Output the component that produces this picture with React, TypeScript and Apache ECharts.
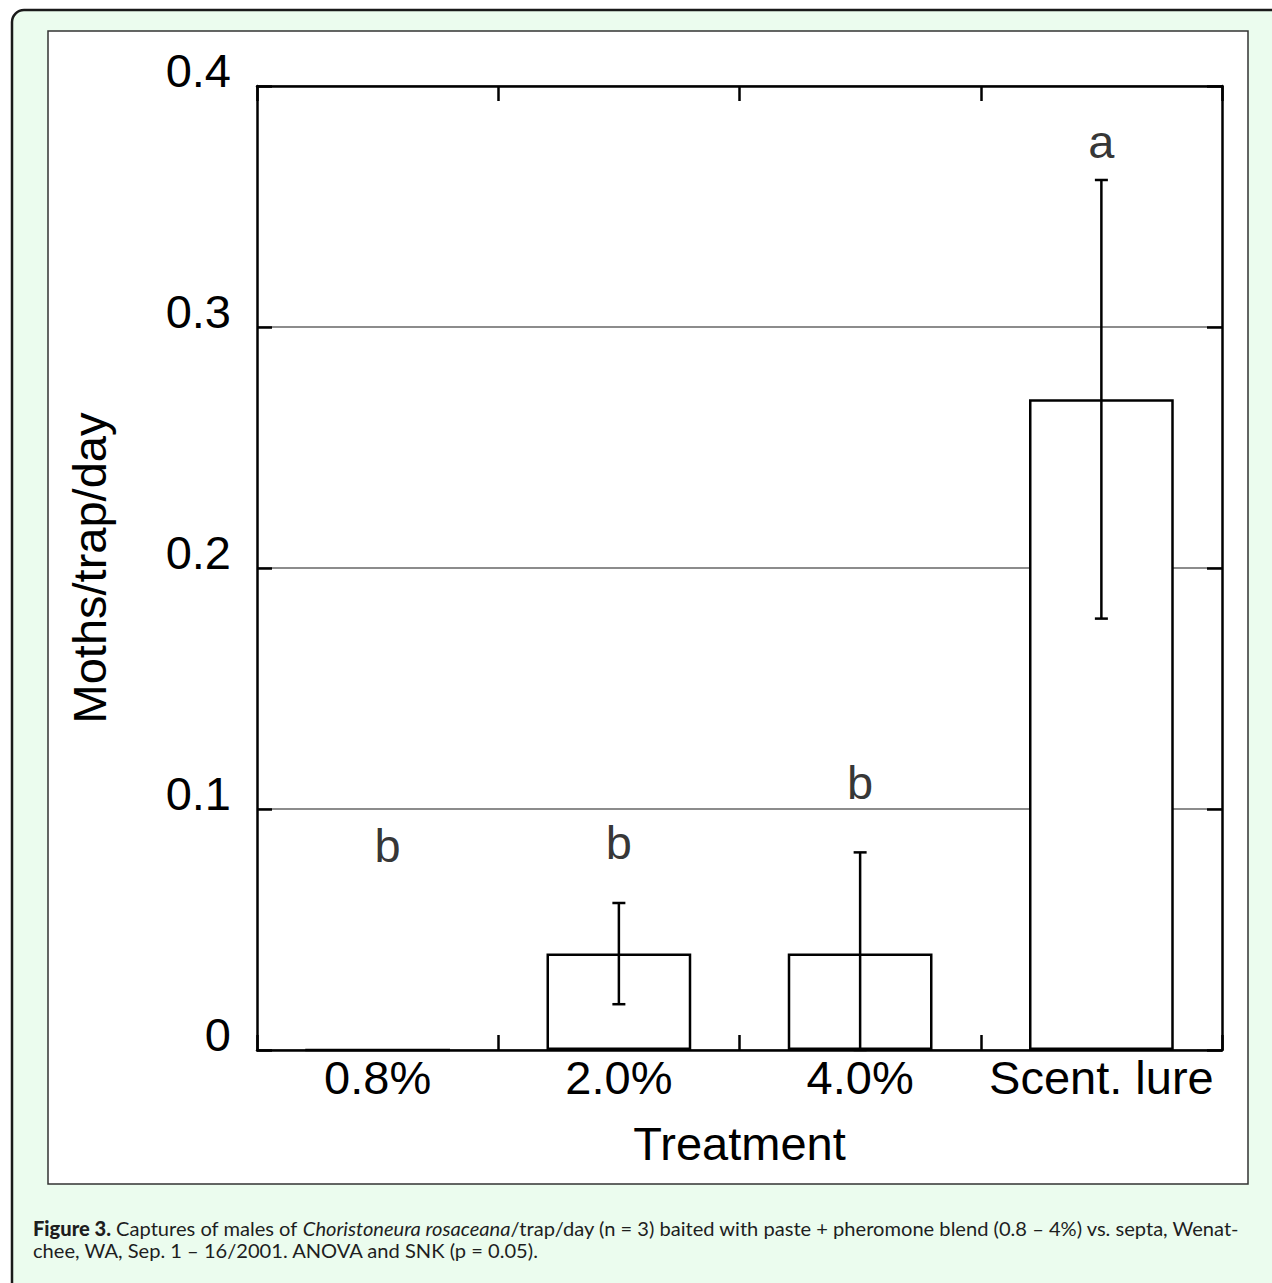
import React, { useEffect, useRef } from "react";
import * as echarts from "echarts";

const categories = ["0.8%", "2.0%", "4.0%", "Scent. lure"];
const means = [0, 0.04, 0.04, 0.27];
const errLow = [0, 0.019, 0, 0.179];
const errHigh = [0, 0.061, 0.082, 0.361];
const letters = ["b", "b", "b", "a"];
const letterY = [0.085, 0.086, 0.111, 0.377];
const yTicks = [0, 0.1, 0.2, 0.3, 0.4];

const captionLine1 =
  "{b|Figure 3.} Captures of males of {i|Choristoneura rosaceana}/trap/day (n = 3) baited with paste + pheromone blend (0.8 – 4%) vs. septa, Wenat-";
const captionLine2 = "chee, WA, Sep. 1 – 16/2001. ANOVA and SNK (p = 0.05).";

const FONT = "Liberation Sans, Arial, Helvetica, sans-serif";
const CAP_FONT = "Lato, Open Sans, sans-serif";
const CAP_SIZE = 20.1;

export default function App() {
  const ref = useRef<HTMLDivElement | null>(null);

  useEffect(() => {
    if (!ref.current) return;
    const chart = echarts.init(ref.current, undefined, { renderer: "svg" });

    const axisLineStyle = { color: "#000", width: 2.5 };
    const capSize = 13;

    const option: any = {
      animation: false,
      backgroundColor: "#fff",
      textStyle: { fontFamily: FONT },
      graphic: [
        {
          type: "rect",
          z: -20,
          silent: true,
          shape: { x: 0, y: 0, width: 1272, height: 1283 },
          style: { fill: "#ffffff" },
        },
        {
          type: "rect",
          z: -19,
          silent: true,
          shape: { x: 12, y: 10, width: 1320, height: 1340, r: 12 },
          style: { fill: "#ebfcee", stroke: "#1a1a1a", lineWidth: 2.5 },
        },
        {
          type: "rect",
          z: -18,
          silent: true,
          shape: { x: 48, y: 31, width: 1200, height: 1153 },
          style: { fill: "#ffffff", stroke: "#333", lineWidth: 1.5 },
        },
        {
          type: "text",
          z: 5,
          x: 33,
          y: 1228,
          style: {
            text: captionLine1,
            fill: "#1e1e1e",
            fontFamily: CAP_FONT,
            fontSize: CAP_SIZE,
            verticalAlign: "middle",
            rich: {
              b: { fontWeight: 900, fontFamily: CAP_FONT, fontSize: CAP_SIZE, fill: "#1e1e1e" },
              i: { fontStyle: "italic", fontFamily: CAP_FONT, fontSize: CAP_SIZE, fill: "#1e1e1e" },
            },
          },
        },
        {
          type: "text",
          z: 5,
          x: 33,
          y: 1250,
          style: {
            text: captionLine2,
            fill: "#1e1e1e",
            fontFamily: CAP_FONT,
            fontSize: CAP_SIZE,
            verticalAlign: "middle",
          },
        },
      ],
      grid: { left: 257, right: 50, top: 86, bottom: 233, containLabel: false },
      xAxis: [
        {
          type: "category",
          data: categories,
          position: "bottom",
          axisLine: { show: true, onZero: false, lineStyle: axisLineStyle },
          axisTick: { show: true, inside: true, length: 15, interval: 0, lineStyle: axisLineStyle },
          axisLabel: { fontSize: 47, color: "#000", fontFamily: FONT, margin: 4, interval: 0 },
          name: "Treatment",
          nameLocation: "middle",
          nameGap: 70,
          nameTextStyle: { fontSize: 47, color: "#000", fontFamily: FONT },
          splitLine: { show: false },
        },
        {
          type: "category",
          data: categories,
          position: "top",
          axisLine: { show: true, onZero: false, lineStyle: axisLineStyle },
          axisTick: { show: true, inside: true, length: 15, interval: 0, lineStyle: axisLineStyle },
          axisLabel: { show: false, interval: 0 },
          splitLine: { show: false },
        },
      ],
      yAxis: [
        {
          type: "value",
          min: 0,
          max: 0.4,
          interval: 0.1,
          position: "left",
          axisLine: { show: true, onZero: false, lineStyle: axisLineStyle },
          axisTick: { show: true, inside: true, length: 15, lineStyle: axisLineStyle },
          axisLabel: {
            fontSize: 47,
            color: "#000",
            fontFamily: FONT,
            margin: 26,
            verticalAlign: "bottom",
            lineHeight: 32,
            formatter: (v: number) => {
              const t = yTicks.find((k) => Math.abs(k - v) < 1e-9);
              return t === 0 ? "0" : (t !== undefined ? t : v).toFixed(1);
            },
          },
          splitLine: { show: true, lineStyle: { color: "#8c8c8c", width: 2 } },
          name: "Moths/trap/day",
          nameLocation: "middle",
          nameGap: 144,
          nameTextStyle: { fontSize: 47, color: "#000", fontFamily: FONT },
        },
        {
          type: "value",
          min: 0,
          max: 0.4,
          interval: 0.1,
          position: "right",
          axisLine: { show: true, onZero: false, lineStyle: axisLineStyle },
          axisTick: { show: true, inside: true, length: 15, lineStyle: axisLineStyle },
          axisLabel: { show: false },
          splitLine: { show: false },
        },
      ],
      series: [
        {
          type: "bar",
          data: means,
          barWidth: "60%",
          z: 2,
          itemStyle: { color: "#fff", borderColor: "#000", borderWidth: 2.5 },
        },
        {
          type: "custom",
          z: 4,
          data: categories.map((_, i) => [i, errLow[i], errHigh[i]]),
          renderItem: (params: any, api: any) => {
            const i = api.value(0);
            const lo = api.value(1);
            const hi = api.value(2);
            if (hi === lo) return null;
            const pLo = api.coord([i, lo]);
            const pHi = api.coord([i, hi]);
            const st = { stroke: "#000", lineWidth: 2.5 };
            return {
              type: "group",
              children: [
                { type: "line", shape: { x1: pLo[0], y1: pLo[1], x2: pHi[0], y2: pHi[1] }, style: st },
                { type: "line", shape: { x1: pHi[0] - capSize / 2, y1: pHi[1], x2: pHi[0] + capSize / 2, y2: pHi[1] }, style: st },
                { type: "line", shape: { x1: pLo[0] - capSize / 2, y1: pLo[1], x2: pLo[0] + capSize / 2, y2: pLo[1] }, style: st },
              ],
            };
          },
        },
        {
          type: "scatter",
          z: 5,
          symbolSize: 0,
          data: categories.map((_, i) => ({
            value: [i, letterY[i]],
            label: i === 0 ? { offset: [10, 0] } : undefined,
          })),
          label: {
            show: true,
            position: "inside",
            fontSize: 47,
            color: "#000",
            fontFamily: FONT,
            formatter: (p: any) => letters[p.dataIndex],
          },
        },
      ],
    };

    chart.setOption(option);
    return () => chart.dispose();
  }, []);

  return (
    <div
      ref={ref}
      style={{ position: "absolute", left: 0, top: 0, width: 1272, height: 1283 }}
    />
  );
}
